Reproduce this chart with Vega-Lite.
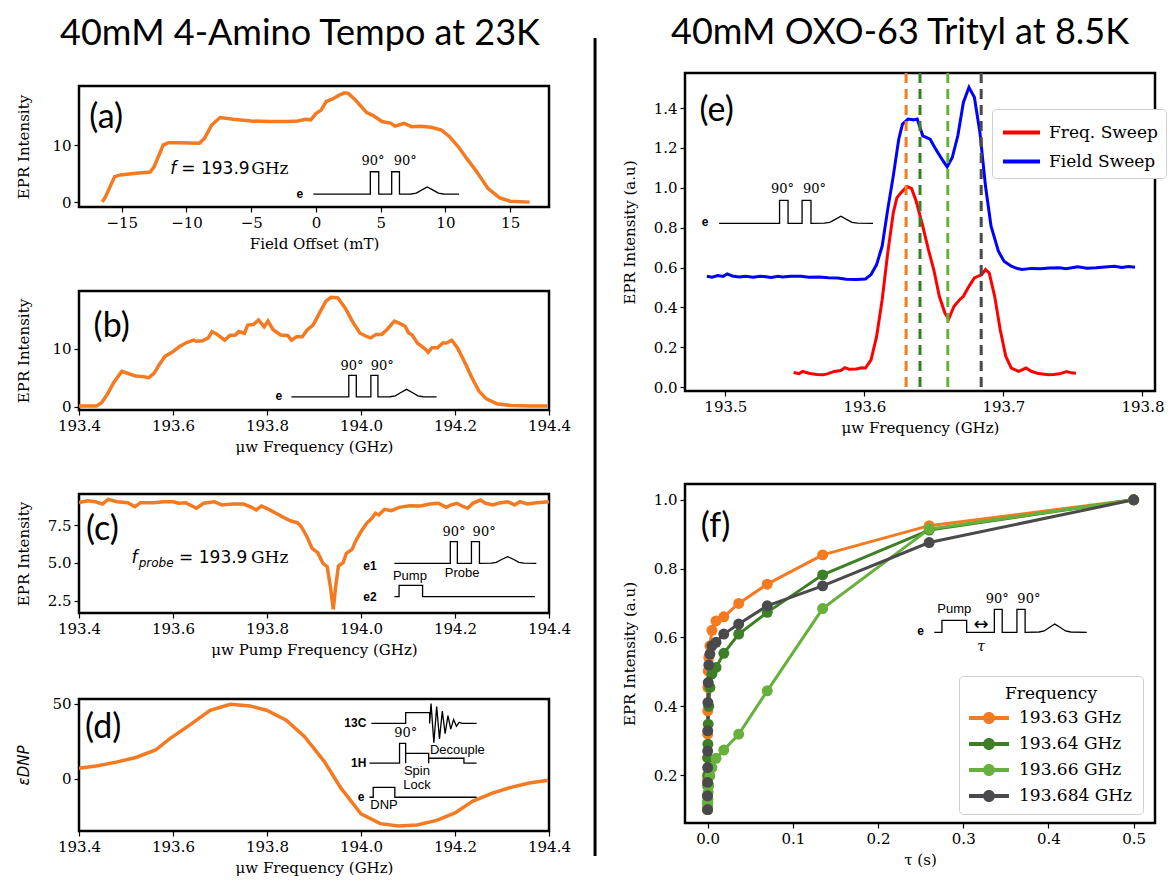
{
"$schema": "https://vega.github.io/schema/vega-lite/v6.json",
"padding": {"left": 14, "top": 13, "right": 0, "bottom": 0},
"config": {
  "view": {"stroke": "#000", "strokeWidth": 2.5},
  "axis": {"labelFont": "DejaVu Serif", "labelFontSize": 15, "labelColor": "#000", "titleFont": "DejaVu Serif", "titleFontSize": 15, "titleFontWeight": "normal", "titleColor": "#000", "tickColor": "#000", "tickSize": 5, "tickWidth": 1.2, "domain": false, "grid": false, "labelPadding": 3, "titlePadding": 6, "labelOverlap": false, "labelFlush": false},
  "axisY": {"minExtent": 40, "maxExtent": 40, "titlePadding": 8}
},
"datasets": {
  "a": [{"x":-16.5,"y":0.1},{"x":-16.25,"y":1.0},{"x":-15.55,"y":4.5},{"x":-15.1,"y":4.8},{"x":-13.9,"y":5.1},{"x":-12.8,"y":5.3},{"x":-12.5,"y":6.2},{"x":-11.8,"y":10.0},{"x":-11.4,"y":10.4},{"x":-10.6,"y":10.4},{"x":-9.0,"y":10.3},{"x":-8.6,"y":11.2},{"x":-8.05,"y":13.5},{"x":-7.4,"y":14.8},{"x":-6.4,"y":14.5},{"x":-5.0,"y":14.2},{"x":-3.6,"y":14.1},{"x":-2.2,"y":14.1},{"x":-1.4,"y":14.2},{"x":-0.8,"y":14.5},{"x":-0.4,"y":14.4},{"x":0,"y":15.5},{"x":0.4,"y":16.1},{"x":0.8,"y":17.6},{"x":1.25,"y":18.0},{"x":1.8,"y":18.7},{"x":2.2,"y":19.1},{"x":2.5,"y":19.0},{"x":3.05,"y":17.85},{"x":3.9,"y":15.7},{"x":4.45,"y":15.1},{"x":5.1,"y":14.1},{"x":5.8,"y":13.8},{"x":6.1,"y":13.3},{"x":6.4,"y":13.5},{"x":6.8,"y":13.8},{"x":7.4,"y":13.2},{"x":8.05,"y":13.3},{"x":8.9,"y":13.1},{"x":9.7,"y":12.6},{"x":10.3,"y":11.5},{"x":11.0,"y":9.7},{"x":11.7,"y":7.5},{"x":12.5,"y":5.1},{"x":13.3,"y":2.4},{"x":14.2,"y":0.8},{"x":15.0,"y":0.2},{"x":16.5,"y":0.05}],
  "b": [{"x":193.4,"y":0.1},{"x":193.437,"y":0.1},{"x":193.448,"y":0.7},{"x":193.46,"y":2.1},{"x":193.474,"y":4.2},{"x":193.491,"y":6.1},{"x":193.506,"y":5.7},{"x":193.521,"y":5.3},{"x":193.537,"y":5.2},{"x":193.548,"y":5.0},{"x":193.56,"y":5.8},{"x":193.571,"y":7.3},{"x":193.583,"y":8.7},{"x":193.598,"y":9.4},{"x":193.614,"y":10.4},{"x":193.629,"y":11.1},{"x":193.644,"y":11.5},{"x":193.65,"y":11.3},{"x":193.663,"y":11.4},{"x":193.675,"y":11.9},{"x":193.683,"y":13.0},{"x":193.694,"y":12.5},{"x":193.71,"y":11.5},{"x":193.721,"y":12.3},{"x":193.733,"y":12.4},{"x":193.74,"y":13.0},{"x":193.752,"y":12.7},{"x":193.759,"y":14.1},{"x":193.771,"y":14.2},{"x":193.782,"y":15.0},{"x":193.794,"y":13.8},{"x":193.802,"y":14.8},{"x":193.813,"y":13.3},{"x":193.829,"y":12.4},{"x":193.844,"y":12.3},{"x":193.852,"y":11.5},{"x":193.863,"y":12.1},{"x":193.875,"y":12.1},{"x":193.886,"y":13.3},{"x":193.898,"y":14.1},{"x":193.913,"y":16.4},{"x":193.925,"y":18.2},{"x":193.936,"y":18.9},{"x":193.951,"y":18.8},{"x":193.967,"y":17.0},{"x":193.982,"y":14.7},{"x":193.998,"y":12.7},{"x":194.013,"y":12.1},{"x":194.021,"y":11.9},{"x":194.032,"y":12.5},{"x":194.044,"y":12.5},{"x":194.055,"y":13.3},{"x":194.071,"y":14.8},{"x":194.082,"y":14.4},{"x":194.094,"y":13.9},{"x":194.101,"y":12.8},{"x":194.109,"y":12.4},{"x":194.12,"y":11.0},{"x":194.136,"y":10.0},{"x":194.143,"y":9.4},{"x":194.151,"y":10.2},{"x":194.163,"y":10.2},{"x":194.174,"y":11.0},{"x":194.182,"y":11.0},{"x":194.193,"y":11.5},{"x":194.205,"y":10.2},{"x":194.22,"y":7.8},{"x":194.236,"y":5.0},{"x":194.251,"y":2.7},{"x":194.266,"y":1.4},{"x":194.289,"y":0.5},{"x":194.32,"y":0.2},{"x":194.359,"y":0.1},{"x":194.397,"y":0.1}],
  "c": [{"x":193.4,"y":8.97},{"x":193.419,"y":9.1},{"x":193.435,"y":9.03},{"x":193.45,"y":8.88},{"x":193.462,"y":9.19},{"x":193.481,"y":9.03},{"x":193.504,"y":8.97},{"x":193.519,"y":8.7},{"x":193.531,"y":8.97},{"x":193.558,"y":8.97},{"x":193.581,"y":9.03},{"x":193.6,"y":9.03},{"x":193.612,"y":8.93},{"x":193.627,"y":8.97},{"x":193.65,"y":8.6},{"x":193.665,"y":8.93},{"x":193.688,"y":9.03},{"x":193.704,"y":8.82},{"x":193.727,"y":8.88},{"x":193.75,"y":8.88},{"x":193.765,"y":8.7},{"x":193.777,"y":8.49},{"x":193.788,"y":8.75},{"x":193.804,"y":8.53},{"x":193.819,"y":8.27},{"x":193.835,"y":8.0},{"x":193.85,"y":7.78},{"x":193.865,"y":7.65},{"x":193.873,"y":7.39},{"x":193.885,"y":6.73},{"x":193.896,"y":5.96},{"x":193.908,"y":5.68},{"x":193.919,"y":4.98},{"x":193.928,"y":4.76},{"x":193.935,"y":3.44},{"x":193.941,"y":1.95},{"x":193.946,"y":3.44},{"x":193.952,"y":4.8},{"x":193.962,"y":5.02},{"x":193.969,"y":5.64},{"x":193.981,"y":5.9},{"x":193.988,"y":6.4},{"x":194.0,"y":7.06},{"x":194.012,"y":7.61},{"x":194.023,"y":7.94},{"x":194.031,"y":8.27},{"x":194.038,"y":8.16},{"x":194.05,"y":8.53},{"x":194.065,"y":8.44},{"x":194.081,"y":8.66},{"x":194.104,"y":8.77},{"x":194.127,"y":8.75},{"x":194.146,"y":8.88},{"x":194.165,"y":8.93},{"x":194.181,"y":8.66},{"x":194.192,"y":8.82},{"x":194.204,"y":8.93},{"x":194.215,"y":8.75},{"x":194.227,"y":8.6},{"x":194.238,"y":8.93},{"x":194.254,"y":9.14},{"x":194.265,"y":8.93},{"x":194.281,"y":8.82},{"x":194.292,"y":8.93},{"x":194.312,"y":9.03},{"x":194.327,"y":8.82},{"x":194.338,"y":9.03},{"x":194.354,"y":8.88},{"x":194.373,"y":8.97},{"x":194.4,"y":9.03}],
  "d": [{"x":193.4,"y":7.0},{"x":193.44,"y":8.6},{"x":193.479,"y":11.0},{"x":193.521,"y":14.1},{"x":193.563,"y":19.1},{"x":193.594,"y":26.9},{"x":193.633,"y":35.2},{"x":193.679,"y":45.6},{"x":193.722,"y":49.6},{"x":193.764,"y":48.5},{"x":193.799,"y":45.6},{"x":193.841,"y":39.0},{"x":193.88,"y":28.0},{"x":193.922,"y":11.4},{"x":193.957,"y":-6.2},{"x":194.0,"y":-23.4},{"x":194.041,"y":-30.0},{"x":194.08,"y":-31.6},{"x":194.119,"y":-30.9},{"x":194.161,"y":-27.8},{"x":194.2,"y":-22.8},{"x":194.238,"y":-15.0},{"x":194.281,"y":-9.5},{"x":194.319,"y":-5.8},{"x":194.358,"y":-2.9},{"x":194.398,"y":-1.1}],
  "e": [
    {"s":"Freq. Sweep","x":193.5491,"y":0.074},{"s":"Freq. Sweep","x":193.553,"y":0.068},{"s":"Freq. Sweep","x":193.5557,"y":0.079},{"s":"Freq. Sweep","x":193.56,"y":0.07},{"s":"Freq. Sweep","x":193.5624,"y":0.067},{"s":"Freq. Sweep","x":193.566,"y":0.064},{"s":"Freq. Sweep","x":193.5703,"y":0.062},{"s":"Freq. Sweep","x":193.574,"y":0.068},{"s":"Freq. Sweep","x":193.5783,"y":0.079},{"s":"Freq. Sweep","x":193.583,"y":0.084},{"s":"Freq. Sweep","x":193.586,"y":0.098},{"s":"Freq. Sweep","x":193.5889,"y":0.09},{"s":"Freq. Sweep","x":193.5942,"y":0.091},{"s":"Freq. Sweep","x":193.598,"y":0.097},{"s":"Freq. Sweep","x":193.6008,"y":0.096},{"s":"Freq. Sweep","x":193.6048,"y":0.137},{"s":"Freq. Sweep","x":193.6088,"y":0.255},{"s":"Freq. Sweep","x":193.6128,"y":0.439},{"s":"Freq. Sweep","x":193.6168,"y":0.674},{"s":"Freq. Sweep","x":193.6208,"y":0.875},{"s":"Freq. Sweep","x":193.6234,"y":0.951},{"s":"Freq. Sweep","x":193.6274,"y":0.984},{"s":"Freq. Sweep","x":193.6308,"y":1.006},{"s":"Freq. Sweep","x":193.634,"y":0.996},{"s":"Freq. Sweep","x":193.6372,"y":0.934},{"s":"Freq. Sweep","x":193.642,"y":0.808},{"s":"Freq. Sweep","x":193.646,"y":0.691},{"s":"Freq. Sweep","x":193.6499,"y":0.59},{"s":"Freq. Sweep","x":193.6539,"y":0.456},{"s":"Freq. Sweep","x":193.6579,"y":0.372},{"s":"Freq. Sweep","x":193.6606,"y":0.342},{"s":"Freq. Sweep","x":193.6645,"y":0.406},{"s":"Freq. Sweep","x":193.6685,"y":0.439},{"s":"Freq. Sweep","x":193.6712,"y":0.456},{"s":"Freq. Sweep","x":193.6752,"y":0.506},{"s":"Freq. Sweep","x":193.6791,"y":0.548},{"s":"Freq. Sweep","x":193.6844,"y":0.565},{"s":"Freq. Sweep","x":193.6871,"y":0.59},{"s":"Freq. Sweep","x":193.6898,"y":0.573},{"s":"Freq. Sweep","x":193.6937,"y":0.456},{"s":"Freq. Sweep","x":193.6977,"y":0.288},{"s":"Freq. Sweep","x":193.7017,"y":0.154},{"s":"Freq. Sweep","x":193.7057,"y":0.096},{"s":"Freq. Sweep","x":193.711,"y":0.079},{"s":"Freq. Sweep","x":193.7163,"y":0.096},{"s":"Freq. Sweep","x":193.72,"y":0.08},{"s":"Freq. Sweep","x":193.7243,"y":0.07},{"s":"Freq. Sweep","x":193.728,"y":0.066},{"s":"Freq. Sweep","x":193.7322,"y":0.062},{"s":"Freq. Sweep","x":193.736,"y":0.064},{"s":"Freq. Sweep","x":193.7402,"y":0.067},{"s":"Freq. Sweep","x":193.7455,"y":0.079},{"s":"Freq. Sweep","x":193.749,"y":0.072},{"s":"Freq. Sweep","x":193.7521,"y":0.07},
    {"s":"Field Sweep","x":193.4867,"y":0.557},{"s":"Field Sweep","x":193.4905,"y":0.552},{"s":"Field Sweep","x":193.4945,"y":0.56},{"s":"Field Sweep","x":193.4985,"y":0.556},{"s":"Field Sweep","x":193.5013,"y":0.568},{"s":"Field Sweep","x":193.505,"y":0.558},{"s":"Field Sweep","x":193.51,"y":0.553},{"s":"Field Sweep","x":193.5146,"y":0.556},{"s":"Field Sweep","x":193.52,"y":0.552},{"s":"Field Sweep","x":193.525,"y":0.557},{"s":"Field Sweep","x":193.5279,"y":0.555},{"s":"Field Sweep","x":193.533,"y":0.55},{"s":"Field Sweep","x":193.538,"y":0.556},{"s":"Field Sweep","x":193.5411,"y":0.553},{"s":"Field Sweep","x":193.547,"y":0.557},{"s":"Field Sweep","x":193.5544,"y":0.556},{"s":"Field Sweep","x":193.56,"y":0.552},{"s":"Field Sweep","x":193.5677,"y":0.553},{"s":"Field Sweep","x":193.574,"y":0.549},{"s":"Field Sweep","x":193.5809,"y":0.548},{"s":"Field Sweep","x":193.587,"y":0.542},{"s":"Field Sweep","x":193.5942,"y":0.54},{"s":"Field Sweep","x":193.6008,"y":0.543},{"s":"Field Sweep","x":193.6048,"y":0.565},{"s":"Field Sweep","x":193.6088,"y":0.615},{"s":"Field Sweep","x":193.6128,"y":0.708},{"s":"Field Sweep","x":193.6168,"y":0.892},{"s":"Field Sweep","x":193.6208,"y":1.06},{"s":"Field Sweep","x":193.6247,"y":1.244},{"s":"Field Sweep","x":193.6274,"y":1.32},{"s":"Field Sweep","x":193.6314,"y":1.345},{"s":"Field Sweep","x":193.6354,"y":1.341},{"s":"Field Sweep","x":193.638,"y":1.345},{"s":"Field Sweep","x":193.642,"y":1.261},{"s":"Field Sweep","x":193.6473,"y":1.244},{"s":"Field Sweep","x":193.6513,"y":1.194},{"s":"Field Sweep","x":193.6566,"y":1.135},{"s":"Field Sweep","x":193.6595,"y":1.105},{"s":"Field Sweep","x":193.6632,"y":1.152},{"s":"Field Sweep","x":193.6672,"y":1.261},{"s":"Field Sweep","x":193.6712,"y":1.428},{"s":"Field Sweep","x":193.6752,"y":1.504},{"s":"Field Sweep","x":193.6791,"y":1.454},{"s":"Field Sweep","x":193.6831,"y":1.278},{"s":"Field Sweep","x":193.6871,"y":1.009},{"s":"Field Sweep","x":193.6911,"y":0.808},{"s":"Field Sweep","x":193.6964,"y":0.682},{"s":"Field Sweep","x":193.7004,"y":0.632},{"s":"Field Sweep","x":193.7057,"y":0.607},{"s":"Field Sweep","x":193.71,"y":0.595},{"s":"Field Sweep","x":193.7136,"y":0.59},{"s":"Field Sweep","x":193.72,"y":0.596},{"s":"Field Sweep","x":193.7269,"y":0.594},{"s":"Field Sweep","x":193.733,"y":0.598},{"s":"Field Sweep","x":193.7402,"y":0.599},{"s":"Field Sweep","x":193.745,"y":0.594},{"s":"Field Sweep","x":193.7534,"y":0.604},{"s":"Field Sweep","x":193.76,"y":0.597},{"s":"Field Sweep","x":193.7667,"y":0.599},{"s":"Field Sweep","x":193.773,"y":0.603},{"s":"Field Sweep","x":193.78,"y":0.607},{"s":"Field Sweep","x":193.785,"y":0.6},{"s":"Field Sweep","x":193.79,"y":0.605},{"s":"Field Sweep","x":193.7946,"y":0.602}],
  "eRules": [{"x":193.63,"g":"193.63 GHz"},{"x":193.64,"g":"193.64 GHz"},{"x":193.66,"g":"193.66 GHz"},{"x":193.684,"g":"193.684 GHz"}],
  "f": [
    {"g":"193.63 GHz","x":0.5,"y":1.0},{"g":"193.63 GHz","x":0.26,"y":0.925},{"g":"193.63 GHz","x":0.135,"y":0.84},{"g":"193.63 GHz","x":0.07,"y":0.755},{"g":"193.63 GHz","x":0.0365,"y":0.699},{"g":"193.63 GHz","x":0.019,"y":0.66},{"g":"193.63 GHz","x":0.0099,"y":0.648},{"g":"193.63 GHz","x":0.0051,"y":0.621},{"g":"193.63 GHz","x":0.0027,"y":0.576},{"g":"193.63 GHz","x":0.0014,"y":0.542},{"g":"193.63 GHz","x":0.00072,"y":0.503},{"g":"193.63 GHz","x":0.00037,"y":0.455},{"g":"193.63 GHz","x":0.00019,"y":0.387},{"g":"193.63 GHz","x":0.0001,"y":0.319},{"g":"193.63 GHz","x":0.00005,"y":0.251},{"g":"193.63 GHz","x":0.000026,"y":0.19},{"g":"193.63 GHz","x":0.000013,"y":0.14},{"g":"193.63 GHz","x":0.000007,"y":0.1},
    {"g":"193.64 GHz","x":0.5,"y":1.0},{"g":"193.64 GHz","x":0.26,"y":0.912},{"g":"193.64 GHz","x":0.135,"y":0.782},{"g":"193.64 GHz","x":0.07,"y":0.673},{"g":"193.64 GHz","x":0.0365,"y":0.61},{"g":"193.64 GHz","x":0.019,"y":0.554},{"g":"193.64 GHz","x":0.0099,"y":0.513},{"g":"193.64 GHz","x":0.0051,"y":0.494},{"g":"193.64 GHz","x":0.0027,"y":0.455},{"g":"193.64 GHz","x":0.0014,"y":0.4},{"g":"193.64 GHz","x":0.00072,"y":0.348},{"g":"193.64 GHz","x":0.00037,"y":0.29},{"g":"193.64 GHz","x":0.00019,"y":0.25},{"g":"193.64 GHz","x":0.0001,"y":0.2},{"g":"193.64 GHz","x":0.00005,"y":0.17},{"g":"193.64 GHz","x":0.000026,"y":0.14},{"g":"193.64 GHz","x":0.000013,"y":0.12},{"g":"193.64 GHz","x":0.000007,"y":0.1},
    {"g":"193.66 GHz","x":0.5,"y":1.0},{"g":"193.66 GHz","x":0.26,"y":0.915},{"g":"193.66 GHz","x":0.135,"y":0.684},{"g":"193.66 GHz","x":0.07,"y":0.445},{"g":"193.66 GHz","x":0.0365,"y":0.319},{"g":"193.66 GHz","x":0.019,"y":0.273},{"g":"193.66 GHz","x":0.0099,"y":0.249},{"g":"193.66 GHz","x":0.0051,"y":0.222},{"g":"193.66 GHz","x":0.0027,"y":0.198},{"g":"193.66 GHz","x":0.0014,"y":0.17},{"g":"193.66 GHz","x":0.00072,"y":0.15},{"g":"193.66 GHz","x":0.00037,"y":0.13},{"g":"193.66 GHz","x":0.00019,"y":0.12},{"g":"193.66 GHz","x":0.0001,"y":0.11},{"g":"193.66 GHz","x":0.00005,"y":0.1},
    {"g":"193.684 GHz","x":0.5,"y":1.0},{"g":"193.684 GHz","x":0.26,"y":0.876},{"g":"193.684 GHz","x":0.135,"y":0.75},{"g":"193.684 GHz","x":0.07,"y":0.692},{"g":"193.684 GHz","x":0.0365,"y":0.639},{"g":"193.684 GHz","x":0.019,"y":0.61},{"g":"193.684 GHz","x":0.0099,"y":0.586},{"g":"193.684 GHz","x":0.0051,"y":0.576},{"g":"193.684 GHz","x":0.0027,"y":0.552},{"g":"193.684 GHz","x":0.0014,"y":0.52},{"g":"193.684 GHz","x":0.00072,"y":0.469},{"g":"193.684 GHz","x":0.00037,"y":0.411},{"g":"193.684 GHz","x":0.00019,"y":0.329},{"g":"193.684 GHz","x":0.0001,"y":0.27},{"g":"193.684 GHz","x":0.00005,"y":0.222},{"g":"193.684 GHz","x":0.000026,"y":0.179},{"g":"193.684 GHz","x":0.000013,"y":0.14},{"g":"193.684 GHz","x":0.000007,"y":0.1}],
  "ins": [
    {"p":"a","s":"a1","i":0,"x":-0.2,"y":1.45},{"p":"a","s":"a1","i":1,"x":4.2,"y":1.45},{"p":"a","s":"a1","i":2,"x":4.2,"y":5.35},{"p":"a","s":"a1","i":3,"x":4.85,"y":5.35},{"p":"a","s":"a1","i":4,"x":4.85,"y":1.45},{"p":"a","s":"a1","i":5,"x":5.85,"y":1.45},{"p":"a","s":"a1","i":6,"x":5.85,"y":5.35},{"p":"a","s":"a1","i":7,"x":6.45,"y":5.35},{"p":"a","s":"a1","i":8,"x":6.45,"y":1.45},{"p":"a","s":"a1","i":9,"x":7.35,"y":1.465},{"p":"a","s":"a1","i":10,"x":7.75,"y":1.61},{"p":"a","s":"a1","i":11,"x":8.15,"y":2.15},{"p":"a","s":"a1","i":12,"x":8.6,"y":2.7},{"p":"a","s":"a1","i":13,"x":9.05,"y":2.15},{"p":"a","s":"a1","i":14,"x":9.45,"y":1.61},{"p":"a","s":"a1","i":15,"x":9.85,"y":1.465},{"p":"a","s":"a1","i":16,"x":11.05,"y":1.45},
    {"p":"b","s":"b1","i":0,"x":193.852,"y":1.7},{"p":"b","s":"b1","i":1,"x":193.974,"y":1.7},{"p":"b","s":"b1","i":2,"x":193.974,"y":5.4},{"p":"b","s":"b1","i":3,"x":193.99,"y":5.4},{"p":"b","s":"b1","i":4,"x":193.99,"y":1.7},{"p":"b","s":"b1","i":5,"x":194.021,"y":1.7},{"p":"b","s":"b1","i":6,"x":194.021,"y":5.4},{"p":"b","s":"b1","i":7,"x":194.036,"y":5.4},{"p":"b","s":"b1","i":8,"x":194.036,"y":1.7},{"p":"b","s":"b1","i":9,"x":194.062,"y":1.72},{"p":"b","s":"b1","i":10,"x":194.073,"y":1.88},{"p":"b","s":"b1","i":11,"x":194.084,"y":2.42},{"p":"b","s":"b1","i":12,"x":194.097,"y":3.0},{"p":"b","s":"b1","i":13,"x":194.11,"y":2.42},{"p":"b","s":"b1","i":14,"x":194.121,"y":1.88},{"p":"b","s":"b1","i":15,"x":194.132,"y":1.72},{"p":"b","s":"b1","i":16,"x":194.161,"y":1.7},
    {"p":"c","s":"c1","i":0,"x":194.071,"y":4.98},{"p":"c","s":"c1","i":1,"x":194.19,"y":4.98},{"p":"c","s":"c1","i":2,"x":194.19,"y":6.4},{"p":"c","s":"c1","i":3,"x":194.205,"y":6.4},{"p":"c","s":"c1","i":4,"x":194.205,"y":4.98},{"p":"c","s":"c1","i":5,"x":194.235,"y":4.98},{"p":"c","s":"c1","i":6,"x":194.235,"y":6.4},{"p":"c","s":"c1","i":7,"x":194.252,"y":6.4},{"p":"c","s":"c1","i":8,"x":194.252,"y":4.98},{"p":"c","s":"c1","i":9,"x":194.277,"y":4.99},{"p":"c","s":"c1","i":10,"x":194.288,"y":5.04},{"p":"c","s":"c1","i":11,"x":194.299,"y":5.23},{"p":"c","s":"c1","i":12,"x":194.312,"y":5.42},{"p":"c","s":"c1","i":13,"x":194.325,"y":5.23},{"p":"c","s":"c1","i":14,"x":194.336,"y":5.04},{"p":"c","s":"c1","i":15,"x":194.347,"y":4.99},{"p":"c","s":"c1","i":16,"x":194.373,"y":4.98},
    {"p":"c","s":"c2","i":0,"x":194.071,"y":2.79},{"p":"c","s":"c2","i":1,"x":194.081,"y":2.79},{"p":"c","s":"c2","i":2,"x":194.081,"y":3.53},{"p":"c","s":"c2","i":3,"x":194.131,"y":3.53},{"p":"c","s":"c2","i":4,"x":194.131,"y":2.79},{"p":"c","s":"c2","i":5,"x":194.37,"y":2.79},
    {"p":"d","s":"d1","i":0,"x":194.022,"y":36.8},{"p":"d","s":"d1","i":1,"x":194.095,"y":36.8},{"p":"d","s":"d1","i":2,"x":194.095,"y":44.0},{"p":"d","s":"d1","i":3,"x":194.146,"y":44.0},{"p":"d","s":"d1","i":4,"x":194.146,"y":36.8},{"p":"d","s":"d1","i":5,"x":194.149,"y":50},{"p":"d","s":"d1","i":6,"x":194.155,"y":24},{"p":"d","s":"d1","i":7,"x":194.161,"y":48},{"p":"d","s":"d1","i":8,"x":194.167,"y":26.5},{"p":"d","s":"d1","i":9,"x":194.173,"y":45},{"p":"d","s":"d1","i":10,"x":194.179,"y":30},{"p":"d","s":"d1","i":11,"x":194.185,"y":42},{"p":"d","s":"d1","i":12,"x":194.191,"y":33},{"p":"d","s":"d1","i":13,"x":194.197,"y":39.5},{"p":"d","s":"d1","i":14,"x":194.203,"y":35},{"p":"d","s":"d1","i":15,"x":194.209,"y":37.5},{"p":"d","s":"d1","i":16,"x":194.215,"y":36.8},{"p":"d","s":"d1","i":17,"x":194.246,"y":36.8},
    {"p":"d","s":"d2","i":0,"x":194.018,"y":10.3},{"p":"d","s":"d2","i":1,"x":194.082,"y":10.3},{"p":"d","s":"d2","i":2,"x":194.082,"y":23.5},{"p":"d","s":"d2","i":3,"x":194.095,"y":23.5},{"p":"d","s":"d2","i":4,"x":194.095,"y":10.3},{"p":"d","s":"d2","i":5,"x":194.095,"y":16.9},{"p":"d","s":"d2","i":6,"x":194.144,"y":16.9},{"p":"d","s":"d2","i":7,"x":194.144,"y":10.3},{"p":"d","s":"d2","i":8,"x":194.144,"y":13.6},{"p":"d","s":"d2","i":9,"x":194.219,"y":13.6},{"p":"d","s":"d2","i":10,"x":194.219,"y":10.3},{"p":"d","s":"d2","i":11,"x":194.246,"y":10.3},
    {"p":"d","s":"d3","i":0,"x":194.018,"y":-12.4},{"p":"d","s":"d3","i":1,"x":194.026,"y":-12.4},{"p":"d","s":"d3","i":2,"x":194.026,"y":-5.8},{"p":"d","s":"d3","i":3,"x":194.072,"y":-5.8},{"p":"d","s":"d3","i":4,"x":194.072,"y":-12.4},{"p":"d","s":"d3","i":5,"x":194.246,"y":-12.4},
    {"p":"e","s":"e1","i":0,"x":193.4955,"y":0.822},{"p":"e","s":"e1","i":1,"x":193.539,"y":0.822},{"p":"e","s":"e1","i":2,"x":193.539,"y":0.937},{"p":"e","s":"e1","i":3,"x":193.5451,"y":0.937},{"p":"e","s":"e1","i":4,"x":193.5451,"y":0.822},{"p":"e","s":"e1","i":5,"x":193.5552,"y":0.822},{"p":"e","s":"e1","i":6,"x":193.5552,"y":0.937},{"p":"e","s":"e1","i":7,"x":193.5616,"y":0.937},{"p":"e","s":"e1","i":8,"x":193.5616,"y":0.822},{"p":"e","s":"e1","i":9,"x":193.5711,"y":0.823},{"p":"e","s":"e1","i":10,"x":193.5751,"y":0.827},{"p":"e","s":"e1","i":11,"x":193.5791,"y":0.842},{"p":"e","s":"e1","i":12,"x":193.5831,"y":0.858},{"p":"e","s":"e1","i":13,"x":193.5871,"y":0.842},{"p":"e","s":"e1","i":14,"x":193.5911,"y":0.827},{"p":"e","s":"e1","i":15,"x":193.5951,"y":0.823},{"p":"e","s":"e1","i":16,"x":193.6062,"y":0.822},
    {"p":"f","s":"f1","i":0,"x":0.266,"y":0.615},{"p":"f","s":"f1","i":1,"x":0.275,"y":0.615},{"p":"f","s":"f1","i":2,"x":0.275,"y":0.65},{"p":"f","s":"f1","i":3,"x":0.304,"y":0.65},{"p":"f","s":"f1","i":4,"x":0.304,"y":0.615},{"p":"f","s":"f1","i":5,"x":0.3365,"y":0.615},{"p":"f","s":"f1","i":6,"x":0.3365,"y":0.682},{"p":"f","s":"f1","i":7,"x":0.3457,"y":0.682},{"p":"f","s":"f1","i":8,"x":0.3457,"y":0.615},{"p":"f","s":"f1","i":9,"x":0.363,"y":0.615},{"p":"f","s":"f1","i":10,"x":0.363,"y":0.682},{"p":"f","s":"f1","i":11,"x":0.3726,"y":0.682},{"p":"f","s":"f1","i":12,"x":0.3726,"y":0.615},{"p":"f","s":"f1","i":13,"x":0.389,"y":0.616},{"p":"f","s":"f1","i":14,"x":0.395,"y":0.619},{"p":"f","s":"f1","i":15,"x":0.401,"y":0.629},{"p":"f","s":"f1","i":16,"x":0.4074,"y":0.639},{"p":"f","s":"f1","i":17,"x":0.414,"y":0.629},{"p":"f","s":"f1","i":18,"x":0.42,"y":0.619},{"p":"f","s":"f1","i":19,"x":0.426,"y":0.616},{"p":"f","s":"f1","i":20,"x":0.445,"y":0.615}],
  "txt": [
    {"p":"a","k":"lab","t":"(a)","x":-17.5,"y":14.65},{"p":"a","k":"b","t":"e","x":-1.25,"y":1.55},{"p":"a","k":"deg","t":"90°","x":4.4,"y":7.3},{"p":"a","k":"deg","t":"90°","x":6.9,"y":7.3},{"p":"a","k":"anI","t":"f","x":-11.25,"y":5.9},{"p":"a","k":"anS","t":"= 193.9","x":-10.4,"y":5.9},{"p":"a","k":"anSerif","t":"GHz","x":-5.0,"y":5.9},
    {"p":"b","k":"lab","t":"(b)","x":193.431,"y":13.8},{"p":"b","k":"b","t":"e","x":193.825,"y":1.8},{"p":"b","k":"deg","t":"90°","x":193.981,"y":7.1},{"p":"b","k":"deg","t":"90°","x":194.045,"y":7.1},
    {"p":"c","k":"lab","t":"(c)","x":193.415,"y":7.17},{"p":"c","k":"b","t":"e1","x":194.019,"y":4.8},{"p":"c","k":"b","t":"e2","x":194.019,"y":2.74},{"p":"c","k":"deg","t":"90°","x":194.198,"y":7.06},{"p":"c","k":"deg","t":"90°","x":194.262,"y":7.06},{"p":"c","k":"n","t":"Probe","x":194.215,"y":4.32},{"p":"c","k":"n","t":"Pump","x":194.104,"y":4.14},{"p":"c","k":"anI","t":"f","x":193.5115,"y":5.31},{"p":"c","k":"anSub","t":"probe","x":193.527,"y":5.02},{"p":"c","k":"anS","t":"= 193.9","x":193.613,"y":5.31},{"p":"c","k":"anSerif","t":"GHz","x":193.766,"y":5.31},
    {"p":"d","k":"lab","t":"(d)","x":193.413,"y":33.5},{"p":"d","k":"b","t":"13C","x":193.988,"y":36.8},{"p":"d","k":"b","t":"1H","x":193.995,"y":10.3},{"p":"d","k":"b","t":"e","x":194.0,"y":-12.4},{"p":"d","k":"deg","t":"90°","x":194.095,"y":30.2},{"p":"d","k":"n","t":"Decouple","x":194.205,"y":19.1},{"p":"d","k":"n","t":"Spin","x":194.119,"y":4.8},{"p":"d","k":"n","t":"Lock","x":194.119,"y":-4.0},{"p":"d","k":"n","t":"DNP","x":194.049,"y":-17.7},
    {"p":"e","k":"lab","t":"(e)","x":193.4814,"y":1.387},{"p":"e","k":"b","t":"e","x":193.4854,"y":0.828},{"p":"e","k":"deg","t":"90°","x":193.5411,"y":0.993},{"p":"e","k":"deg","t":"90°","x":193.5642,"y":0.993},
    {"p":"f","k":"lab","t":"(f)","x":-0.008,"y":0.92},{"p":"f","k":"b","t":"e","x":0.25,"y":0.619},{"p":"f","k":"n","t":"Pump","x":0.2895,"y":0.682},{"p":"f","k":"deg","t":"90°","x":0.34,"y":0.713},{"p":"f","k":"deg","t":"90°","x":0.377,"y":0.713},{"p":"f","k":"tau","t":"τ","x":0.321,"y":0.572},{"p":"f","k":"arr","t":"↔","x":0.321,"y":0.636}]
},
"spacing": 0,
"hconcat": [
 {
  "spacing": 0,
  "vconcat": [
   {"width": 470, "height": 11, "view": {"stroke": null},
    "title": {"text": "40mM 4-Amino Tempo at 23K", "font": "Lato", "fontSize": 36, "fontWeight": "normal", "color": "#000", "anchor": "middle", "frame": "group", "offset": 20, "dx": -14},
    "data": {"values": [{"v": 0}]},
    "mark": {"type": "point", "opacity": 0},
    "encoding": {}},
   {
    "spacing": 36,
    "vconcat": [
     {"width": 470, "height": 121,
      "layer": [
       {"data": {"name": "a"}, "mark": {"type": "line", "color": "#f47a22", "strokeWidth": 3.5, "clip": true},
        "encoding": {"x": {"field": "x", "type": "quantitative", "scale": {"domain": [-18.3, 18.0], "nice": false, "zero": false}, "axis": {"values": [-15,-10,-5,0,5,10,15], "title": "Field Offset (mT)"}},
                     "y": {"field": "y", "type": "quantitative", "scale": {"domain": [-0.8, 20.3], "nice": false, "zero": false}, "axis": {"values": [0,10], "title": "EPR Intensity"}}}},
       {"data": {"name": "ins"}, "transform": [{"filter": "datum.p=='a'"}], "mark": {"type": "line", "color": "#000", "strokeWidth": 1.3}, "encoding": {"x": {"field": "x", "type": "quantitative"}, "y": {"field": "y", "type": "quantitative"}, "detail": {"field": "s"}, "order": {"field": "i", "type": "quantitative"}}},
       {"data": {"name": "txt"}, "transform": [{"filter": "datum.p=='a' && datum.k=='lab'"}], "mark": {"type": "text", "font": "Lato", "fontSize": 34, "align": "left", "baseline": "middle", "color": "#000"}, "encoding": {"x": {"field": "x", "type": "quantitative"}, "y": {"field": "y", "type": "quantitative"}, "text": {"field": "t"}}},
       {"data": {"name": "txt"}, "transform": [{"filter": "datum.p=='a' && datum.k=='b'"}], "mark": {"type": "text", "font": "Liberation Sans", "fontWeight": "bold", "fontSize": 12, "align": "center", "baseline": "middle", "color": "#000"}, "encoding": {"x": {"field": "x", "type": "quantitative"}, "y": {"field": "y", "type": "quantitative"}, "text": {"field": "t"}}},
       {"data": {"name": "txt"}, "transform": [{"filter": "datum.p=='a' && datum.k=='deg'"}], "mark": {"type": "text", "font": "DejaVu Serif", "fontSize": 13, "align": "center", "baseline": "middle", "color": "#000"}, "encoding": {"x": {"field": "x", "type": "quantitative"}, "y": {"field": "y", "type": "quantitative"}, "text": {"field": "t"}}},
       {"data": {"name": "txt"}, "transform": [{"filter": "datum.p=='a' && datum.k=='anI'"}], "mark": {"type": "text", "font": "DejaVu Sans", "fontStyle": "italic", "fontSize": 17, "align": "left", "baseline": "middle", "color": "#000"}, "encoding": {"x": {"field": "x", "type": "quantitative"}, "y": {"field": "y", "type": "quantitative"}, "text": {"field": "t"}}},
       {"data": {"name": "txt"}, "transform": [{"filter": "datum.p=='a' && datum.k=='anS'"}], "mark": {"type": "text", "font": "DejaVu Sans", "fontSize": 17, "align": "left", "baseline": "middle", "color": "#000"}, "encoding": {"x": {"field": "x", "type": "quantitative"}, "y": {"field": "y", "type": "quantitative"}, "text": {"field": "t"}}},
       {"data": {"name": "txt"}, "transform": [{"filter": "datum.p=='a' && datum.k=='anSerif'"}], "mark": {"type": "text", "font": "DejaVu Serif", "fontSize": 17, "align": "left", "baseline": "middle", "color": "#000"}, "encoding": {"x": {"field": "x", "type": "quantitative"}, "y": {"field": "y", "type": "quantitative"}, "text": {"field": "t"}}}
     ]},
     {"width": 470, "height": 119, "layer": [
       {"data": {"name": "b"}, "mark": {"type": "line", "color": "#f47a22", "strokeWidth": 3.5, "clip": true},
        "encoding": {"x": {"field": "x", "type": "quantitative", "scale": {"domain": [193.4, 194.4], "nice": false, "zero": false}, "axis": {"values": [193.4,193.6,193.8,194.0,194.2,194.4], "format": ".1f", "title": "μw Frequency (GHz)"}},
                     "y": {"field": "y", "type": "quantitative", "scale": {"domain": [-0.57, 20.0], "nice": false, "zero": false}, "axis": {"values": [0,10], "title": "EPR Intensity"}}}},
       {"data": {"name": "ins"}, "transform": [{"filter": "datum.p=='b'"}], "mark": {"type": "line", "color": "#000", "strokeWidth": 1.3}, "encoding": {"x": {"field": "x", "type": "quantitative"}, "y": {"field": "y", "type": "quantitative"}, "detail": {"field": "s"}, "order": {"field": "i", "type": "quantitative"}}},
       {"data": {"name": "txt"}, "transform": [{"filter": "datum.p=='b' && datum.k=='lab'"}], "mark": {"type": "text", "font": "Lato", "fontSize": 34, "align": "left", "baseline": "middle", "color": "#000"}, "encoding": {"x": {"field": "x", "type": "quantitative"}, "y": {"field": "y", "type": "quantitative"}, "text": {"field": "t"}}},
       {"data": {"name": "txt"}, "transform": [{"filter": "datum.p=='b' && datum.k=='b'"}], "mark": {"type": "text", "font": "Liberation Sans", "fontWeight": "bold", "fontSize": 12, "align": "center", "baseline": "middle", "color": "#000"}, "encoding": {"x": {"field": "x", "type": "quantitative"}, "y": {"field": "y", "type": "quantitative"}, "text": {"field": "t"}}},
       {"data": {"name": "txt"}, "transform": [{"filter": "datum.p=='b' && datum.k=='deg'"}], "mark": {"type": "text", "font": "DejaVu Serif", "fontSize": 13, "align": "center", "baseline": "middle", "color": "#000"}, "encoding": {"x": {"field": "x", "type": "quantitative"}, "y": {"field": "y", "type": "quantitative"}, "text": {"field": "t"}}}
     ]},
     {"width": 470, "height": 119, "layer": [
       {"data": {"name": "c"}, "mark": {"type": "line", "color": "#f47a22", "strokeWidth": 3.5, "clip": true},
        "encoding": {"x": {"field": "x", "type": "quantitative", "scale": {"domain": [193.4, 194.4], "nice": false, "zero": false}, "axis": {"values": [193.4,193.6,193.8,194.0,194.2,194.4], "format": ".1f", "title": "μw Pump Frequency (GHz)"}},
                     "y": {"field": "y", "type": "quantitative", "scale": {"domain": [1.71, 9.54], "nice": false, "zero": false}, "axis": {"values": [2.5,5.0,7.5], "format": ".1f", "title": "EPR Intensity"}}}},
       {"data": {"name": "ins"}, "transform": [{"filter": "datum.p=='c'"}], "mark": {"type": "line", "color": "#000", "strokeWidth": 1.3}, "encoding": {"x": {"field": "x", "type": "quantitative"}, "y": {"field": "y", "type": "quantitative"}, "detail": {"field": "s"}, "order": {"field": "i", "type": "quantitative"}}},
       {"data": {"name": "txt"}, "transform": [{"filter": "datum.p=='c' && datum.k=='lab'"}], "mark": {"type": "text", "font": "Lato", "fontSize": 34, "align": "left", "baseline": "middle", "color": "#000"}, "encoding": {"x": {"field": "x", "type": "quantitative"}, "y": {"field": "y", "type": "quantitative"}, "text": {"field": "t"}}},
       {"data": {"name": "txt"}, "transform": [{"filter": "datum.p=='c' && datum.k=='b'"}], "mark": {"type": "text", "font": "Liberation Sans", "fontWeight": "bold", "fontSize": 12, "align": "center", "baseline": "middle", "color": "#000"}, "encoding": {"x": {"field": "x", "type": "quantitative"}, "y": {"field": "y", "type": "quantitative"}, "text": {"field": "t"}}},
       {"data": {"name": "txt"}, "transform": [{"filter": "datum.p=='c' && datum.k=='deg'"}], "mark": {"type": "text", "font": "DejaVu Serif", "fontSize": 13, "align": "center", "baseline": "middle", "color": "#000"}, "encoding": {"x": {"field": "x", "type": "quantitative"}, "y": {"field": "y", "type": "quantitative"}, "text": {"field": "t"}}},
       {"data": {"name": "txt"}, "transform": [{"filter": "datum.p=='c' && datum.k=='n'"}], "mark": {"type": "text", "font": "Liberation Sans", "fontSize": 13, "align": "center", "baseline": "middle", "color": "#000"}, "encoding": {"x": {"field": "x", "type": "quantitative"}, "y": {"field": "y", "type": "quantitative"}, "text": {"field": "t"}}},
       {"data": {"name": "txt"}, "transform": [{"filter": "datum.p=='c' && datum.k=='anI'"}], "mark": {"type": "text", "font": "DejaVu Sans", "fontStyle": "italic", "fontSize": 17, "align": "left", "baseline": "middle", "color": "#000"}, "encoding": {"x": {"field": "x", "type": "quantitative"}, "y": {"field": "y", "type": "quantitative"}, "text": {"field": "t"}}},
       {"data": {"name": "txt"}, "transform": [{"filter": "datum.p=='c' && datum.k=='anSub'"}], "mark": {"type": "text", "font": "DejaVu Sans", "fontStyle": "italic", "fontSize": 12, "align": "left", "baseline": "middle", "color": "#000"}, "encoding": {"x": {"field": "x", "type": "quantitative"}, "y": {"field": "y", "type": "quantitative"}, "text": {"field": "t"}}},
       {"data": {"name": "txt"}, "transform": [{"filter": "datum.p=='c' && datum.k=='anS'"}], "mark": {"type": "text", "font": "DejaVu Sans", "fontSize": 17, "align": "left", "baseline": "middle", "color": "#000"}, "encoding": {"x": {"field": "x", "type": "quantitative"}, "y": {"field": "y", "type": "quantitative"}, "text": {"field": "t"}}},
       {"data": {"name": "txt"}, "transform": [{"filter": "datum.p=='c' && datum.k=='anSerif'"}], "mark": {"type": "text", "font": "DejaVu Serif", "fontSize": 17, "align": "left", "baseline": "middle", "color": "#000"}, "encoding": {"x": {"field": "x", "type": "quantitative"}, "y": {"field": "y", "type": "quantitative"}, "text": {"field": "t"}}}
     ]},
     {"width": 470, "height": 132, "layer": [
       {"data": {"name": "d"}, "mark": {"type": "line", "color": "#f47a22", "strokeWidth": 3.5, "clip": true},
        "encoding": {"x": {"field": "x", "type": "quantitative", "scale": {"domain": [193.4, 194.4], "nice": false, "zero": false}, "axis": {"values": [193.4,193.6,193.8,194.0,194.2,194.4], "format": ".1f", "title": "μw Frequency (GHz)"}},
                     "y": {"field": "y", "type": "quantitative", "scale": {"domain": [-34.9, 53.1], "nice": false, "zero": false}, "axis": {"values": [0,50], "title": "εDNP", "titleFont": "DejaVu Sans", "titleFontStyle": "italic"}}}},
       {"data": {"name": "ins"}, "transform": [{"filter": "datum.p=='d'"}], "mark": {"type": "line", "color": "#000", "strokeWidth": 1.3}, "encoding": {"x": {"field": "x", "type": "quantitative"}, "y": {"field": "y", "type": "quantitative"}, "detail": {"field": "s"}, "order": {"field": "i", "type": "quantitative"}}},
       {"data": {"name": "txt"}, "transform": [{"filter": "datum.p=='d' && datum.k=='lab'"}], "mark": {"type": "text", "font": "Lato", "fontSize": 34, "align": "left", "baseline": "middle", "color": "#000"}, "encoding": {"x": {"field": "x", "type": "quantitative"}, "y": {"field": "y", "type": "quantitative"}, "text": {"field": "t"}}},
       {"data": {"name": "txt"}, "transform": [{"filter": "datum.p=='d' && datum.k=='b'"}], "mark": {"type": "text", "font": "Liberation Sans", "fontWeight": "bold", "fontSize": 12, "align": "center", "baseline": "middle", "color": "#000"}, "encoding": {"x": {"field": "x", "type": "quantitative"}, "y": {"field": "y", "type": "quantitative"}, "text": {"field": "t"}}},
       {"data": {"name": "txt"}, "transform": [{"filter": "datum.p=='d' && datum.k=='deg'"}], "mark": {"type": "text", "font": "DejaVu Serif", "fontSize": 13, "align": "center", "baseline": "middle", "color": "#000"}, "encoding": {"x": {"field": "x", "type": "quantitative"}, "y": {"field": "y", "type": "quantitative"}, "text": {"field": "t"}}},
       {"data": {"name": "txt"}, "transform": [{"filter": "datum.p=='d' && datum.k=='n'"}], "mark": {"type": "text", "font": "Liberation Sans", "fontSize": 13, "align": "center", "baseline": "middle", "color": "#000"}, "encoding": {"x": {"field": "x", "type": "quantitative"}, "y": {"field": "y", "type": "quantitative"}, "text": {"field": "t"}}}
     ]}
    ]
   }
  ]
 },
 {"width": 48, "height": 783, "view": {"stroke": null},
  "data": {"values": [{"x": 0.48, "y": 0, "y2": 1.0447}]},
  "mark": {"type": "rule", "color": "#000", "strokeWidth": 3},
  "encoding": {"x": {"field": "x", "type": "quantitative", "scale": {"domain": [0, 1]}, "axis": null},
               "y": {"field": "y", "type": "quantitative", "scale": {"domain": [0, 1]}, "axis": null},
               "y2": {"field": "y2"}}},
 {
  "spacing": 45,
  "vconcat": [
   {"width": 470, "height": 318,
    "title": {"text": "40mM OXO-63 Trityl at 8.5K", "font": "Lato", "fontSize": 36, "fontWeight": "normal", "color": "#000", "anchor": "middle", "frame": "group", "offset": 20, "dx": -20},
    "resolve": {"scale": {"color": "independent"}, "legend": {"color": "independent"}},
    "layer": [
     {"data": {"name": "e"}, "mark": {"type": "line", "strokeWidth": 3, "clip": true},
      "encoding": {"x": {"field": "x", "type": "quantitative", "scale": {"domain": [193.471, 193.809], "nice": false, "zero": false}, "axis": {"values": [193.5,193.6,193.7,193.8], "format": ".1f", "title": "μw Frequency (GHz)"}},
                   "y": {"field": "y", "type": "quantitative", "scale": {"domain": [-0.019, 1.576], "nice": false, "zero": false}, "axis": {"values": [0,0.2,0.4,0.6,0.8,1.0,1.2,1.4], "format": ".1f", "title": "EPR Intensity (a.u)"}},
                   "color": {"field": "s", "type": "nominal", "scale": {"domain": ["Freq. Sweep","Field Sweep"], "range": ["#ff0000","#0000ff"]},
                             "legend": {"orient": "none", "legendX": 307, "legendY": 36, "title": null, "labelFont": "DejaVu Serif", "labelFontSize": 17, "labelColor": "#000", "symbolType": "M-1.4,0H1.4", "symbolStrokeWidth": 4, "symbolSize": 700, "symbolOffset": 6, "strokeColor": "#d0d0d0", "fillColor": "#fff", "padding": 8, "cornerRadius": 4, "rowPadding": 5, "labelOffset": 12}}}},
     {"data": {"name": "eRules"}, "mark": {"type": "rule", "strokeWidth": 3, "strokeDash": [10, 6]},
      "encoding": {"x": {"field": "x", "type": "quantitative"},
                   "color": {"field": "g", "type": "nominal", "scale": {"domain": ["193.63 GHz","193.64 GHz","193.66 GHz","193.684 GHz"], "range": ["#f47a22","#3d7f26","#67b03c","#4a4a4c"]}, "legend": null}}},
     {"data": {"name": "ins"}, "transform": [{"filter": "datum.p=='e'"}], "mark": {"type": "line", "color": "#000", "strokeWidth": 1.3}, "encoding": {"x": {"field": "x", "type": "quantitative"}, "y": {"field": "y", "type": "quantitative"}, "detail": {"field": "s"}, "order": {"field": "i", "type": "quantitative"}}},
     {"data": {"name": "txt"}, "transform": [{"filter": "datum.p=='e' && datum.k=='lab'"}], "mark": {"type": "text", "font": "Lato", "fontSize": 34, "align": "left", "baseline": "middle", "color": "#000"}, "encoding": {"x": {"field": "x", "type": "quantitative"}, "y": {"field": "y", "type": "quantitative"}, "text": {"field": "t"}}},
     {"data": {"name": "txt"}, "transform": [{"filter": "datum.p=='e' && datum.k=='b'"}], "mark": {"type": "text", "font": "Liberation Sans", "fontWeight": "bold", "fontSize": 12, "align": "center", "baseline": "middle", "color": "#000"}, "encoding": {"x": {"field": "x", "type": "quantitative"}, "y": {"field": "y", "type": "quantitative"}, "text": {"field": "t"}}},
     {"data": {"name": "txt"}, "transform": [{"filter": "datum.p=='e' && datum.k=='deg'"}], "mark": {"type": "text", "font": "DejaVu Serif", "fontSize": 13, "align": "center", "baseline": "middle", "color": "#000"}, "encoding": {"x": {"field": "x", "type": "quantitative"}, "y": {"field": "y", "type": "quantitative"}, "text": {"field": "t"}}}
   ]},
   {"width": 470, "height": 339,
    "resolve": {"scale": {"color": "independent"}, "legend": {"color": "independent"}},
    "layer": [
     {"data": {"name": "f"}, "mark": {"type": "line", "strokeWidth": 3},
      "encoding": {"x": {"field": "x", "type": "quantitative", "scale": {"domain": [-0.0265, 0.525], "nice": false, "zero": false}, "axis": {"values": [0,0.1,0.2,0.3,0.4,0.5], "format": ".1f", "title": "τ (s)"}},
                   "y": {"field": "y", "type": "quantitative", "scale": {"domain": [0.061, 1.046], "nice": false, "zero": false}, "axis": {"values": [0.2,0.4,0.6,0.8,1.0], "format": ".1f", "title": "EPR Intensity (a.u)"}},
                   "color": {"field": "g", "type": "nominal", "scale": {"domain": ["193.63 GHz","193.64 GHz","193.66 GHz","193.684 GHz"], "range": ["#f47a22","#3d7f26","#67b03c","#4a4a4c"]}, "legend": null}}},
     {"data": {"name": "f"}, "mark": {"type": "point", "filled": true, "size": 120, "opacity": 1},
      "encoding": {"x": {"field": "x", "type": "quantitative"}, "y": {"field": "y", "type": "quantitative"},
                   "color": {"field": "g", "type": "nominal", "scale": {"domain": ["193.63 GHz","193.64 GHz","193.66 GHz","193.684 GHz"], "range": ["#f47a22","#3d7f26","#67b03c","#4a4a4c"]},
                             "legend": {"orient": "none", "legendX": 274, "legendY": 192, "title": "Frequency", "titleFont": "DejaVu Serif", "titleFontSize": 17, "titleFontWeight": "normal", "titleColor": "#000", "titleAnchor": "middle", "titleAlign": "center", "labelFont": "DejaVu Serif", "labelFontSize": 17, "labelColor": "#000", "symbolType": "M-2,-0.2H2V0.2H-2Z M0.6,0A0.6,0.6,0,1,1,-0.6,0A0.6,0.6,0,1,1,0.6,0Z", "symbolSize": 400, "symbolStrokeWidth": 0, "symbolOpacity": 1, "symbolOffset": 10, "strokeColor": "#d0d0d0", "fillColor": "#fff", "padding": 10, "cornerRadius": 4, "rowPadding": 8, "labelOffset": 20}}}},
     {"data": {"name": "ins"}, "transform": [{"filter": "datum.p=='f'"}], "mark": {"type": "line", "color": "#000", "strokeWidth": 1.3}, "encoding": {"x": {"field": "x", "type": "quantitative"}, "y": {"field": "y", "type": "quantitative"}, "detail": {"field": "s"}, "order": {"field": "i", "type": "quantitative"}}},
     {"data": {"name": "txt"}, "transform": [{"filter": "datum.p=='f' && datum.k=='lab'"}], "mark": {"type": "text", "font": "Lato", "fontSize": 34, "align": "left", "baseline": "middle", "color": "#000"}, "encoding": {"x": {"field": "x", "type": "quantitative"}, "y": {"field": "y", "type": "quantitative"}, "text": {"field": "t"}}},
     {"data": {"name": "txt"}, "transform": [{"filter": "datum.p=='f' && datum.k=='b'"}], "mark": {"type": "text", "font": "Liberation Sans", "fontWeight": "bold", "fontSize": 12, "align": "center", "baseline": "middle", "color": "#000"}, "encoding": {"x": {"field": "x", "type": "quantitative"}, "y": {"field": "y", "type": "quantitative"}, "text": {"field": "t"}}},
     {"data": {"name": "txt"}, "transform": [{"filter": "datum.p=='f' && datum.k=='deg'"}], "mark": {"type": "text", "font": "DejaVu Serif", "fontSize": 13, "align": "center", "baseline": "middle", "color": "#000"}, "encoding": {"x": {"field": "x", "type": "quantitative"}, "y": {"field": "y", "type": "quantitative"}, "text": {"field": "t"}}},
     {"data": {"name": "txt"}, "transform": [{"filter": "datum.p=='f' && datum.k=='n'"}], "mark": {"type": "text", "font": "Liberation Sans", "fontSize": 13, "align": "center", "baseline": "middle", "color": "#000"}, "encoding": {"x": {"field": "x", "type": "quantitative"}, "y": {"field": "y", "type": "quantitative"}, "text": {"field": "t"}}},
     {"data": {"name": "txt"}, "transform": [{"filter": "datum.p=='f' && datum.k=='arr'"}], "mark": {"type": "text", "font": "DejaVu Sans", "fontSize": 18, "align": "center", "baseline": "middle", "color": "#000"}, "encoding": {"x": {"field": "x", "type": "quantitative"}, "y": {"field": "y", "type": "quantitative"}, "text": {"field": "t"}}},
     {"data": {"name": "txt"}, "transform": [{"filter": "datum.p=='f' && datum.k=='tau'"}], "mark": {"type": "text", "font": "DejaVu Serif", "fontStyle": "italic", "fontSize": 14, "align": "center", "baseline": "middle", "color": "#000"}, "encoding": {"x": {"field": "x", "type": "quantitative"}, "y": {"field": "y", "type": "quantitative"}, "text": {"field": "t"}}}
   ]}
  ]
 }
]
}
